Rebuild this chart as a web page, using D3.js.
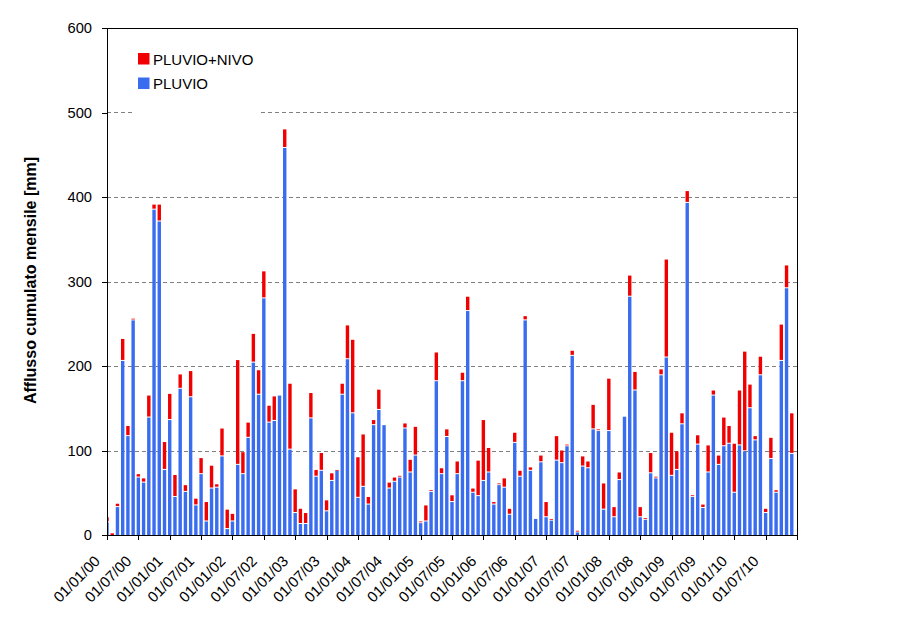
<!DOCTYPE html>
<html>
<head>
<meta charset="utf-8">
<script src="https://cdn.jsdelivr.net/npm/d3@7"></script>
<style>
    body { margin: 0; background: #fff; }
    svg { display: block; font-family: "Liberation Sans", Arial, sans-serif; }
    .grid line { stroke: #808080; stroke-dasharray: 4,3; shape-rendering: crispEdges; }
    .axis path, .axis line { stroke: #000; shape-rendering: crispEdges; }
    .axis text { font-size: 14.7px; fill: #000; }
</style>
</head>
<body>
<svg id="chart" width="899" height="621"></svg>
<script>
// Afflusso cumulato mensile: PLUVIO (blu) e PLUVIO+NIVO (rosso), gen 2000 - dic 2010

const pluvio = [
    15, 0, 33, 206, 117, 254, 68, 62, 139, 385, 371, 77,
    136, 45, 173, 51, 163, 35, 72, 16, 55, 56, 93, 7,
    16, 83, 72, 115, 204, 166, 280, 133, 135, 165, 458, 101,
    26, 13, 13, 138, 69, 76, 28, 64, 76, 166, 208, 144,
    44, 57, 36, 130, 148, 130, 55, 63, 68, 126, 74, 94,
    14, 16, 51, 182, 72, 116, 39, 72, 182, 265, 50, 46,
    64, 74, 36, 59, 56, 24, 109, 69, 254, 76, 19, 86,
    21, 17, 88, 85, 105, 212, 3, 81, 79, 125, 123, 30,
    123, 21, 65, 140, 282, 171, 21, 18, 73, 67, 189, 210,
    70, 77, 131, 393, 45, 107, 32, 74, 165, 83, 105, 108,
    50, 106, 99, 150, 112, 189, 26, 90, 50, 206, 292, 96
];

const pluvioNivo = [
    21, 2, 37, 232, 129, 256, 72, 67, 165, 391, 391, 110,
    167, 71, 190, 59, 194, 43, 91, 39, 82, 60, 126, 30,
    25, 207, 98, 133, 238, 195, 312, 153, 164, 165, 480, 179,
    54, 31, 26, 168, 77, 97, 41, 73, 77, 179, 248, 231,
    92, 119, 45, 136, 172, 130, 62, 68, 70, 132, 89, 128,
    16, 35, 53, 216, 79, 125, 47, 87, 192, 282, 55, 88,
    136, 103, 39, 61, 67, 31, 121, 76, 259, 80, 19, 94,
    39, 19, 117, 100, 107, 218, 5, 93, 87, 154, 125, 61,
    185, 33, 74, 140, 307, 193, 33, 20, 97, 69, 196, 326,
    121, 99, 144, 407, 47, 118, 36, 106, 171, 94, 139, 129,
    108, 171, 217, 178, 117, 211, 31, 115, 53, 249, 319, 144
];

const tickLabels = [
    "01/01/00", "01/07/00", "01/01/01", "01/07/01", "01/01/02", "01/07/02",
    "01/01/03", "01/07/03", "01/01/04", "01/07/04", "01/01/05", "01/07/05",
    "01/01/06", "01/07/06", "01/01/07", "01/07/07", "01/01/08", "01/07/08",
    "01/01/09", "01/07/09", "01/01/10", "01/07/10"
];

const yTicks = [0, 100, 200, 300, 400, 500, 600];

const colBlue = "#3a6cf0";
const colRed = "#f00000";

// ---- scale ----

const plotL = 107, plotR = 797, plotT = 28, plotB = 535;
const nMonths = pluvio.length;

const x = d3.scaleLinear().domain([0, nMonths]).range([plotL, plotR]);
const y = d3.scaleLinear().domain([0, 600]).range([plotB, plotT]);
const barW = 3.4;

const svg = d3.select("#chart");

svg.append("defs").append("clipPath").attr("id", "plot-clip")
    .append("rect")
    .attr("x", plotL).attr("y", plotT)
    .attr("width", plotR - plotL).attr("height", plotB - plotT);

// ---- griglia ----

svg.append("g").attr("class", "grid")
    .selectAll("line")
    .data(yTicks.filter(d => d > 0 && d < 600))
    .enter().append("line")
    .attr("x1", plotL).attr("x2", plotR)
    .attr("y1", d => Math.round(y(d)) + 0.5)
    .attr("y2", d => Math.round(y(d)) + 0.5);

// sfondo bianco della legenda (copre la griglia)
svg.append("rect")
    .attr("x", 133).attr("y", 40)
    .attr("width", 125).attr("height", 78)
    .attr("fill", "#fff");

// ---- barre ----

const bars = svg.append("g").attr("clip-path", "url(#plot-clip)");
const idx = d3.range(nMonths);

bars.selectAll(".tot")
    .data(idx.filter(i => pluvioNivo[i] > pluvio[i]))
    .enter().append("rect")
    .attr("class", "tot")
    .attr("x", i => x(i) - barW / 2)
    .attr("width", barW)
    .attr("y", i => y(pluvioNivo[i]))
    .attr("height", i => Math.max(0.8, y(pluvio[i]) - y(pluvioNivo[i]) - (pluvio[i] > 0 ? 1 : 0)))
    .attr("fill", colRed);

bars.selectAll(".pluv")
    .data(idx.filter(i => pluvio[i] > 0))
    .enter().append("rect")
    .attr("class", "pluv")
    .attr("x", i => x(i) - barW / 2)
    .attr("width", barW)
    .attr("y", i => y(pluvio[i]))
    .attr("height", i => y(0) - y(pluvio[i]))
    .attr("fill", colBlue);

// ---- assi ----

const yAxis = d3.axisLeft(y).tickValues(yTicks).tickSize(5).tickPadding(10);
svg.append("g").attr("class", "axis")
    .attr("transform", `translate(${plotL},0)`)
    .call(yAxis);

const xAxis = d3.axisBottom(x)
    .tickValues(d3.range(0, nMonths + 1, 6))
    .tickSize(5)
    .tickFormat("");
svg.append("g").attr("class", "axis")
    .attr("transform", `translate(0,${plotB})`)
    .call(xAxis);

svg.append("g").attr("class", "axis")
    .selectAll("text")
    .data(tickLabels)
    .enter().append("text")
    .attr("transform", (d, k) => `translate(${x(k * 6) - 6},${plotB + 27}) rotate(-45)`)
    .attr("text-anchor", "end")
    .style("font-size", "15px")
    .text(d => d);

// cornice superiore e destra
svg.append("path")
    .attr("d", `M${plotL},${plotT + 0.5}H${plotR + 0.5}V${plotB}`)
    .attr("fill", "none")
    .attr("stroke", "#000")
    .attr("shape-rendering", "crispEdges");

// titolo asse y
svg.append("text")
    .attr("transform", "translate(35.5,280.5) rotate(-90)")
    .attr("text-anchor", "middle")
    .attr("font-size", 16)
    .attr("font-weight", "bold")
    .text("Afflusso cumulato mensile [mm]");

// ---- legenda ----

const legend = [
    { name: "PLUVIO+NIVO", color: colRed },
    { name: "PLUVIO", color: colBlue },
];

const lg = svg.append("g").selectAll("g")
    .data(legend).enter().append("g")
    .attr("transform", (d, k) => `translate(138,${53 + k * 24.5})`);

lg.append("rect").attr("width", 11.5).attr("height", 11.5).attr("fill", d => d.color);
lg.append("text")
    .attr("x", 15).attr("y", 11.8)
    .attr("font-size", 15)
    .text(d => d.name);
</script>
</body>
</html>
